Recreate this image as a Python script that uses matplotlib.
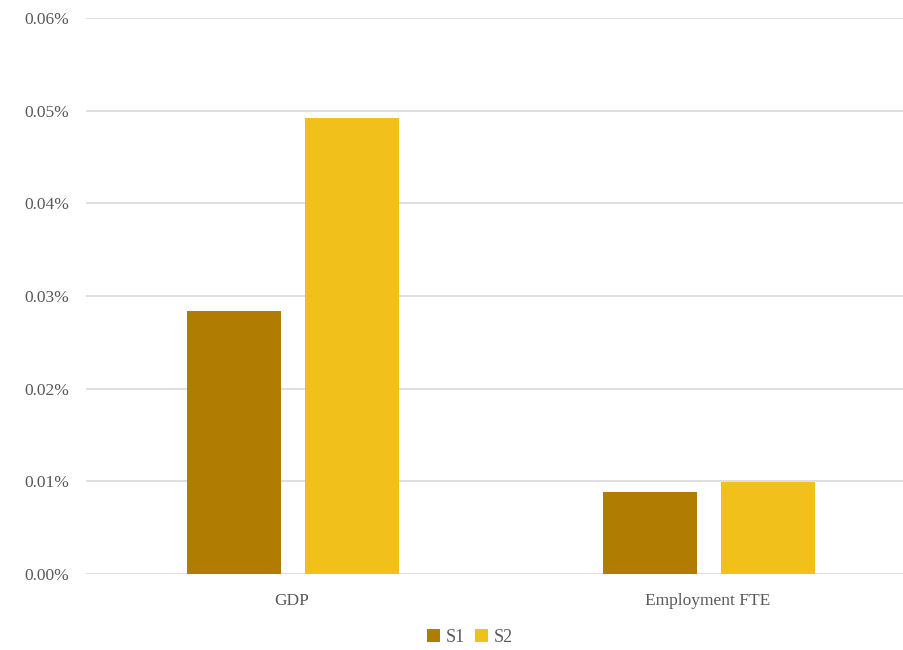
import numpy as np
import matplotlib.pyplot as plt
from matplotlib.ticker import FuncFormatter

plt.switch_backend('Agg')
plt.rcParams['font.family'] = ['Liberation Serif', 'DejaVu Serif']

categories = ['GDP', 'Employment FTE']
series_names = ['S1', 'S2']
s1_values = [0.0284, 0.00885]
s2_values = [0.0492, 0.0099]
colors = ['#B07D02', '#F2C01A']

fig = plt.figure(figsize=(9.04, 6.5), dpi=100)
ax = fig.add_axes([86 / 904, 1 - 574 / 650, 1 - 86 / 904, (574 - 18) / 650])

x = np.arange(len(categories))
width = 0.226
offset = 0.142
ax.bar(x - offset + 0.002, s1_values, width, color=colors[0], label=series_names[0], zorder=3)
ax.bar(x + offset + 0.002, s2_values, width, color=colors[1], label=series_names[1], zorder=3)

ax.set_xlim(-0.496, 1.472)
ax.set_ylim(0, 0.06)
ax.set_yticks(np.arange(0, 0.061, 0.01))
ax.yaxis.set_major_formatter(FuncFormatter(lambda v, p: f'{v:.2f}%'))
ax.set_xticks(x)
ax.set_xticklabels(categories)

ax.grid(axis='y', color='#D9D9D9', linewidth=1.2, zorder=0)
for s in ax.spines.values():
    s.set_visible(False)
ax.tick_params(axis='both', length=0, colors='#595959', labelsize=12.5)
ax.tick_params(axis='y', pad=12)
ax.tick_params(axis='x', pad=14)

fig.legend(loc='center', bbox_to_anchor=(470 / 904, 1 - 637 / 650), ncol=2, frameon=False,
           handlelength=0.7, handleheight=0.7, handletextpad=0.3, columnspacing=0.6,
           labelcolor='#595959', fontsize=13)

fig.savefig('out.png', dpi=100)
